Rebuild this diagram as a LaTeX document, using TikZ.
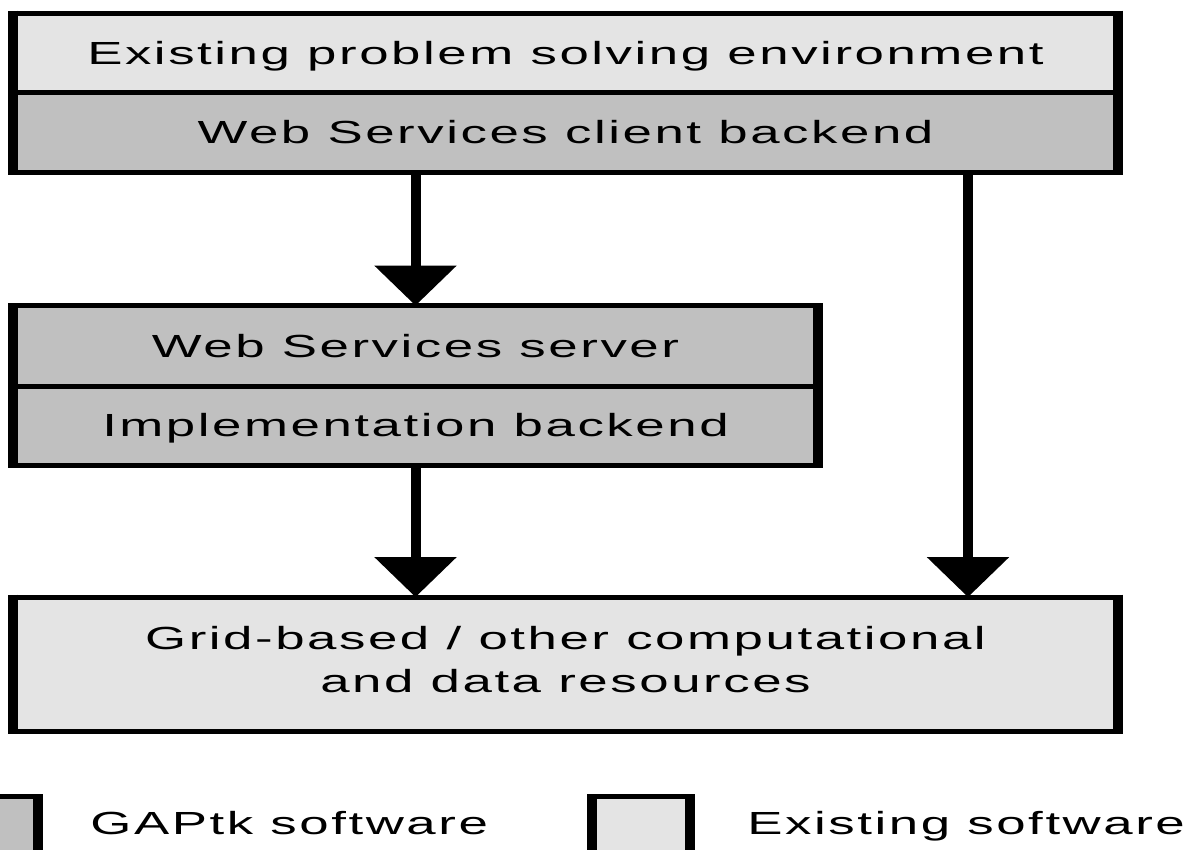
\documentclass[tikz,border=0pt]{standalone}
\usepackage{fontspec}
\usetikzlibrary{arrows.meta}
\newfontfamily\lblfont[FakeStretch=1.65,LetterSpace=8]{Liberation Sans}
\definecolor{lightg}{HTML}{E4E4E4}
\definecolor{darkg}{HTML}{C0C0C0}
\newcommand\boxsides[2]{%
  \draw[vline] (#1.north west) -- (#2.south west);
  \draw[vline] (#1.north east) -- (#2.south east);}
\begin{document}
\begin{tikzpicture}[x=0.5pt,y=-0.5pt,
  lbl/.style={font=\lblfont\fontsize{16pt}{21.5pt}\selectfont},
  cell/.style={lbl, inner sep=0pt, text height=11.5pt, text depth=0pt},
  hline/.style={line width=2.5pt},
  vline/.style={line width=5pt, shorten <=-1.25pt, shorten >=-1.25pt},
  arr/.style={line width=5pt, -{Triangle[width=40pt,length=20pt]}}]
\useasboundingbox (0,0) rectangle (1189,850);
\clip (0,0) rectangle (1189,850);

% top box
\node[cell, fill=lightg, minimum width=552.5pt, minimum height=39.5pt] (env) at (565.5,53) {Existing problem solving environment};
\node[cell, fill=darkg, minimum width=552.5pt, minimum height=40pt] (client) at (565.5,132.5) {Web Services client backend};
\draw[hline] (env.north west) rectangle (client.south east);
\draw[hline] (env.south west) -- (env.south east);
\boxsides{env}{client}

% middle box
\node[cell, fill=darkg, minimum width=402.5pt, minimum height=40pt] (server) at (415.5,346) {Web Services server};
\node[cell, fill=darkg, minimum width=402.5pt, minimum height=39.5pt] (impl) at (415.5,425.5) {Implementation backend};
\draw[hline] (server.north west) rectangle (impl.south east);
\draw[hline] (server.south west) -- (server.south east);
\boxsides{server}{impl}

% bottom box
\node[inner sep=0pt, fill=lightg, minimum width=552.5pt, minimum height=66.75pt] (grid) at (565.5,664.25) {};
\draw[hline] (grid.north west) rectangle (grid.south east);
\boxsides{grid}{grid}
\node[lbl, align=center, inner sep=0pt] (gridtxt) at (565.5,659.8) {Grid-based / other computational\\and data resources};

% connectors
\coordinate (rcol) at (968,0);
\draw[arr] (client.south -| server.north) -- (server.north);
\draw[arr] (impl.south) -- (grid.north -| impl.south);
\draw[arr] (client.south -| rcol) -- (grid.north -| rcol);

% legend
\node[inner sep=0pt, fill=darkg, minimum width=49pt, minimum height=51.5pt] (lg1) at (-11,848.5) {};
\draw[hline] (lg1.north west) rectangle (lg1.south east);
\boxsides{lg1}{lg1}
\node[lbl, anchor=base west, inner sep=0pt] (gaptxt) at (90,834) {GAPtk software};
\node[inner sep=0pt, fill=lightg, minimum width=49pt, minimum height=51.5pt] (lg2) at (641,848.5) {};
\draw[hline] (lg2.north west) rectangle (lg2.south east);
\boxsides{lg2}{lg2}
\node[lbl, anchor=base west, inner sep=0pt] (exttxt) at (747,834) {Existing software};
\end{tikzpicture}
\end{document}
